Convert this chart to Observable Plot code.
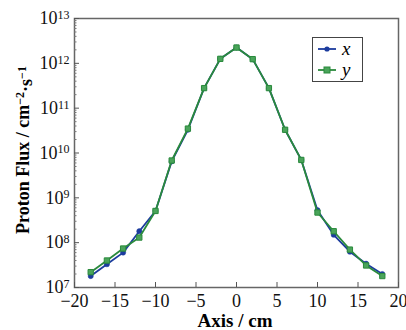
<!DOCTYPE html>
<html>
<head>
<meta charset="utf-8">
<script src="https://cdn.jsdelivr.net/npm/d3@7"></script>
<script src="https://cdn.jsdelivr.net/npm/@observablehq/plot@0.6"></script>
<style>
  html, body { margin: 0; padding: 0; background: #fff; }
  #wrap { position: relative; width: 406px; height: 330px; }
  #wrap svg text { font-family: "Liberation Serif", "Times New Roman", Times, serif; }
  #legend { position: absolute; left: 312px; top: 37px; width: 51px; height: 45px;
    border: 1px solid #444; background: #fff; box-sizing: border-box;
    font-family: "Liberation Serif", "Times New Roman", Times, serif; font-style: italic; font-size: 19px; }
  #legend .row { position: absolute; left: 5px; height: 20px; display: flex; align-items: center; }
  #legend svg { margin-right: 6px; }
</style>
</head>
<body>
<div id="wrap"></div>
<script>
const positions = [-18, -16, -14, -12, -10, -8, -6, -4, -2, 0, 2, 4, 6, 8, 10, 12, 14, 16, 18];
const fluxX = [1.8e7, 3.3e7, 6.0e7, 1.8e8, 5.1e8, 6.5e9, 3.3e10, 2.8e11, 1.26e12, 2.25e12, 1.24e12, 2.8e11, 3.3e10, 7.0e9, 5.3e8, 1.5e8, 6.3e7, 3.4e7, 2.0e7];
const fluxY = [2.2e7, 4.0e7, 7.4e7, 1.3e8, 5.1e8, 6.8e9, 3.5e10, 2.8e11, 1.26e12, 2.25e12, 1.24e12, 2.8e11, 3.3e10, 7.0e9, 4.7e8, 1.8e8, 7.0e7, 3.1e7, 1.8e7];
const seriesNames = ["x", "y"];
const seriesColors = ["#1c3c9e", "#2a8a3c"];
const xTicks = [-20, -15, -10, -5, 0, 5, 10, 15, 20];
const yExponents = [7, 8, 9, 10, 11, 12, 13];
const xLabel = "Axis / cm";

const yTicks = yExponents.map(e => Math.pow(10, e));
const yMinor = [];
for (let e = 7; e < 13; e++) for (let m = 2; m <= 9; m++) yMinor.push(m * Math.pow(10, e));

const dataX = positions.map((p, i) => ({pos: p, flux: fluxX[i]}));
const dataY = positions.map((p, i) => ({pos: p, flux: fluxY[i]}));

const serif = "'Liberation Serif', 'Times New Roman', Times, serif";

const chart = Plot.plot({
  width: 406,
  height: 330,
  marginLeft: 74,
  marginRight: 8,
  marginTop: 18,
  marginBottom: 43,
  style: {fontFamily: serif, fontSize: "18px", color: "#000", background: "#fff"},
  x: {domain: [-20, 20], label: null},
  y: {type: "log", domain: [1e7, 1e13], label: null},
  marks: [
    Plot.frame({stroke: "#666", strokeWidth: 1.5}),
    Plot.axisX({ticks: xTicks, tickSize: -5, text: null, stroke: "#555"}),
    Plot.axisX({ticks: xTicks, tickSize: 0, tickPadding: 7, fontSize: 18, tickFormat: d => d < 0 ? "\u2212" + (-d) : String(d), fill: "#111"}),
    Plot.axisY({ticks: yTicks, tickSize: -5, text: null, stroke: "#555"}),
    Plot.axisY({ticks: yMinor, tickSize: -2.5, text: null, stroke: "#777"}),
    Plot.axisY({ticks: yTicks, tickSize: 0, tickPadding: 5, fontSize: 18, tickFormat: d => "10^" + Math.round(Math.log10(d)), fill: "#111"}),
    Plot.line(dataX, {x: "pos", y: "flux", stroke: seriesColors[0], strokeWidth: 1.8}),
    Plot.dot(dataX, {x: "pos", y: "flux", r: 2.6, fill: seriesColors[0], stroke: seriesColors[0], strokeWidth: 0.5}),
    Plot.line(dataY, {x: "pos", y: "flux", stroke: seriesColors[1], strokeWidth: 1.8}),
    Plot.dot(dataY, {x: "pos", y: "flux", symbol: "square", r: 3, fill: "#4aa45a", stroke: seriesColors[1], strokeWidth: 1})
  ]
});

document.getElementById("wrap").appendChild(chart);
const svg = d3.select(chart);

// superscript tick labels
svg.selectAll("text").each(function() {
  const t = this.textContent;
  if (/^10\^\d+$/.test(t)) {
    const exp = t.split("^")[1];
    const el = d3.select(this);
    el.text("10");
    el.append("tspan").attr("dy", "-0.45em").attr("font-size", "12px").text(exp);
  }
});

// y axis title
const yl = svg.append("text")
  .attr("transform", "translate(29,150) rotate(-90)")
  .attr("text-anchor", "middle")
  .attr("font-family", serif)
  .attr("font-weight", "bold")
  .attr("font-size", "18px")
  .attr("fill", "#000");
yl.append("tspan").text("Proton Flux / cm");
yl.append("tspan").attr("dy", "-0.45em").attr("font-size", "12px").text("\u22122");
yl.append("tspan").attr("dy", "0.45em").text("\u00b7s");
yl.append("tspan").attr("dy", "-0.45em").attr("font-size", "12px").text("\u22121");

// x axis title
svg.append("text")
  .attr("x", 235).attr("y", 327)
  .attr("text-anchor", "middle")
  .attr("font-family", serif)
  .attr("font-weight", "bold")
  .attr("font-size", "19px")
  .attr("fill", "#000")
  .text(xLabel);

// legend
const legend = document.createElement("div");
legend.id = "legend";
seriesNames.forEach((name, i) => {
  const row = document.createElement("div");
  row.className = "row";
  row.style.top = (i === 0 ? 1 : 22) + "px";
  const sym = i === 0
    ? `<circle cx="9" cy="5" r="2.6" fill="${seriesColors[0]}"/>`
    : `<rect x="6" y="2" width="6" height="6" fill="#4aa45a" stroke="${seriesColors[1]}"/>`;
  row.innerHTML = `<svg width="18" height="10"><line x1="0" x2="18" y1="5" y2="5" stroke="${seriesColors[i]}" stroke-width="1.8"/>${sym}</svg><span>${name}</span>`;
  legend.appendChild(row);
});
document.getElementById("wrap").appendChild(legend);
</script>
</body>
</html>
